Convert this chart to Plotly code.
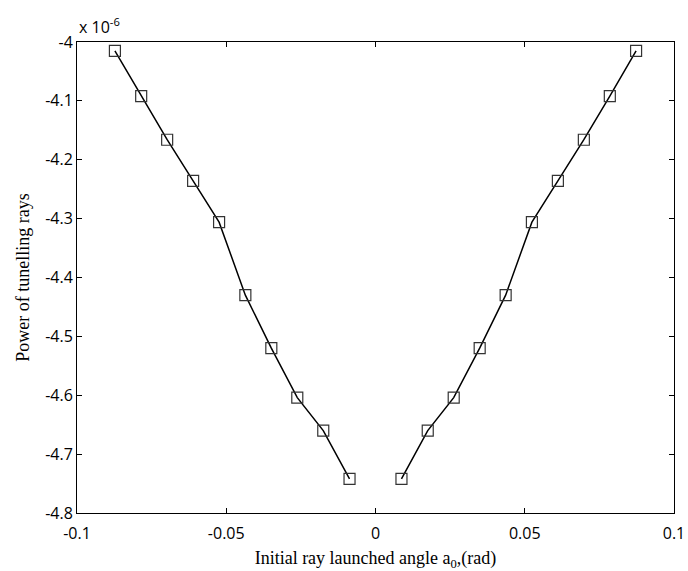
import plotly.graph_objects as go

# Launch angles (rad) and power (x 1e-6)
angle_left = [-0.0873, -0.0785, -0.0698, -0.0611, -0.0524, -0.0436, -0.0349, -0.0262, -0.0175, -0.0087]
power_left = [-4.015, -4.092, -4.166, -4.236, -4.306, -4.430, -4.520, -4.604, -4.660, -4.742]
angle_right = [0.0087, 0.0175, 0.0262, 0.0349, 0.0436, 0.0524, 0.0611, 0.0698, 0.0785, 0.0873]
power_right = [-4.742, -4.660, -4.604, -4.520, -4.430, -4.306, -4.236, -4.166, -4.092, -4.015]

x_ticks = [-0.1, -0.05, 0, 0.05, 0.1]
x_ticklabels = ["-0.1", "-0.05", "0", "0.05", "0.1"]
y_ticks = [-4.8, -4.7, -4.6, -4.5, -4.4, -4.3, -4.2, -4.1, -4.0]
y_ticklabels = ["-4.8", "-4.7", "-4.6", "-4.5", "-4.4", "-4.3", "-4.2", "-4.1", "-4"]

fig = go.Figure()
for xs, ys in [(angle_left, power_left), (angle_right, power_right)]:
    fig.add_trace(go.Scatter(
        x=xs, y=ys, mode="lines+markers",
        line=dict(color="black", width=1.5),
        marker=dict(symbol="square-open", size=11, color="#333333", line=dict(width=1.2)),
        showlegend=False))

tickfont = dict(family="Open Sans, Liberation Sans, sans-serif", size=16, color="black")
serif = dict(family="Liberation Serif, Times New Roman, serif", size=18, color="black")
axis_common = dict(showgrid=False, zeroline=False, showline=True, linecolor="black", linewidth=1,
                   mirror="ticks", ticks="inside", ticklen=5, tickcolor="black",
                   tickfont=tickfont, automargin=False)

fig.update_layout(
    width=688, height=571, autosize=False,
    margin=dict(l=77, r=14, t=42, b=58, pad=0),
    paper_bgcolor="white", plot_bgcolor="white",
    xaxis=dict(range=[-0.1, 0.1], tickvals=x_ticks, ticktext=x_ticklabels, ticklabelstandoff=6,
               title=dict(text="Initial ray launched angle a<sub>0</sub>,(rad)", font=serif, standoff=8),
               **axis_common),
    yaxis=dict(range=[-4.8, -4.0], tickvals=y_ticks, ticktext=y_ticklabels,
               title=dict(text="Power of tunelling rays", font=serif, standoff=10),
               **axis_common),
    annotations=[dict(text="x 10<sup>-6</sup>", xref="paper", yref="paper", x=0.0, y=1.0,
                      xanchor="left", yanchor="bottom", showarrow=False, yshift=2,
                      font=tickfont)],
)

fig.write_html("out.html")
